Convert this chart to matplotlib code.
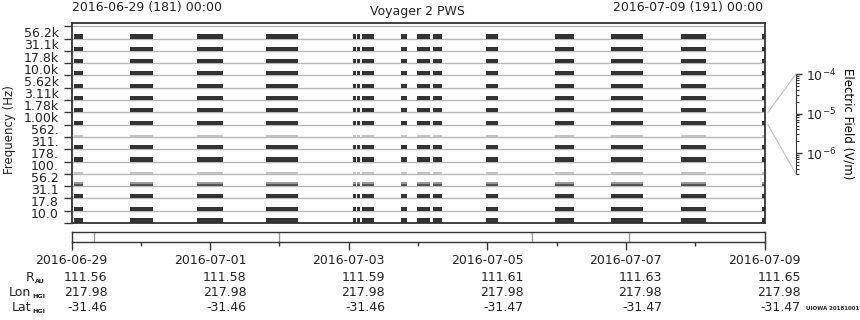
import matplotlib
matplotlib.use('Agg')
import matplotlib.pyplot as plt
from matplotlib.patches import ConnectionPatch
import numpy as np

# channel labels, bottom row first
freq_labels = ['10.0', '17.8', '31.1', '56.2', '100.', '178.', '311.', '562.',
               '1.00k', '1.78k', '3.11k', '5.62k', '10.0k', '17.8k', '31.1k', '56.2k']
# signal level of each row (bottom first): 2 strong, 1 medium, 0 weak
row_level = [2, 2, 2, 1, 0, 2, 2, 0, 2, 2, 2, 2, 2, 2, 2, 2]

# data intervals, in days after 2016-06-29 00:00
seg_start = [0.04, 0.84, 1.81, 2.80, 4.06, 4.12, 4.19, 4.75, 4.98, 5.21, 5.98, 6.97, 7.79, 8.79, 9.97]
seg_end = [0.17, 1.18, 2.18, 3.27, 4.11, 4.17, 4.36, 4.84, 5.17, 5.34, 6.16, 7.25, 8.25, 9.15, 10.0]

# gray markers in the strip under the panel (days)
strip_marks = [0.32, 3.0, 6.65, 8.05]

date_ticks = [0, 2, 4, 6, 8, 10]
date_labels = ['2016-06-29', '2016-07-01', '2016-07-03', '2016-07-05', '2016-07-07', '2016-07-09']
r_au = ['111.56', '111.58', '111.59', '111.61', '111.63', '111.65']
lon_hgi = ['217.98', '217.98', '217.98', '217.98', '217.98', '217.98']
lat_hgi = ['-31.46', '-31.46', '-31.46', '-31.47', '-31.47', '-31.47']

txt = '#222222'
dark = '#333333'
plt.rcParams['font.family'] = 'DejaVu Sans'
plt.rcParams['font.size'] = 9
plt.rcParams['text.color'] = txt
plt.rcParams['xtick.color'] = txt
plt.rcParams['ytick.color'] = txt

W, H = 860, 320
fig = plt.figure(figsize=(W / 100, H / 100), dpi=100)

def px(x0, y0, x1, y1):
    # pixel box -> figure fraction
    return [x0 / W, 1 - y1 / H, (x1 - x0) / W, (y1 - y0) / H]

# ---- main panel
ax = fig.add_axes(px(71.5, 23.3, 764.5, 223))
nrow = len(freq_labels)
ax.set_xlim(0, 10)
ax.set_ylim(0, nrow + 0.24)
for i in range(1, nrow + 1):
    ax.axhline(i, color='#b8b8b8', lw=1, zorder=1)

widths = [e - s for s, e in zip(seg_start, seg_end)]
segs = list(zip(seg_start, widths))
for i, lev in enumerate(row_level):
    h = 0.33 if i > 0 else 0.42
    if lev == 2:
        ax.broken_barh(segs, (i, h), facecolors=dark, zorder=2)
    elif lev == 1:
        ax.broken_barh(segs, (i, 0.3), facecolors='#9a9a9a', zorder=2)
        ax.broken_barh(segs, (i, 0.18), facecolors='#555555', zorder=2)
    else:
        ax.broken_barh(segs, (i, 0.16), facecolors='#c4c4c4', zorder=2)

ax.set_yticks(np.arange(nrow + 1))
ax.set_yticklabels([])
ax.set_yticks(np.linspace(0.8, 15.5, nrow), minor=True)
ax.set_yticklabels(freq_labels, minor=True)
ax.tick_params(axis='y', which='major', direction='out', length=6, width=1, color=dark)
ax.tick_params(axis='y', which='minor', length=0, pad=9, labelsize=9)
ax.set_xticks([])
for s in ax.spines.values():
    s.set_color(dark)
    s.set_linewidth(1.3)

# ---- field scale on the right
cax = fig.add_axes(px(796, 74, 796.1, 174))
cax.set_yscale('log')
cax.set_ylim(3e-7, 1e-4)
cax.set_xticks([])
cax.yaxis.tick_right()
cax.yaxis.set_label_position('right')
for k in ['left', 'top', 'bottom']:
    cax.spines[k].set_visible(False)
cax.spines['right'].set_color(dark)
cax.tick_params(axis='y', which='major', direction='out', length=4, width=1, color=dark, pad=3)
cax.tick_params(axis='y', which='minor', direction='out', length=2, width=0.8, color=dark)
cax.set_ylabel('Electric Field (V/m)', rotation=270, labelpad=13, fontsize=8.5)

for ya, yb in [(9, 1), (8, 0)]:
    con = ConnectionPatch(xyA=(10.05, ya), coordsA=ax.transData,
                          xyB=(-0.5, yb), coordsB=cax.transAxes,
                          color='#c0c0c0', lw=0.8)
    fig.add_artist(con)

# ---- time strip
sax = fig.add_axes(px(71.5, 232, 764.5, 242))
sax.set_xlim(0, 10)
sax.set_yticks([])
for m in strip_marks:
    sax.axvline(m, color='#999999', lw=1)
for s in sax.spines.values():
    s.set_color(dark)
    s.set_linewidth(1)
sax.set_xticks(date_ticks)
sax.set_xticklabels(date_labels)
sax.set_xticks([1, 3, 5, 7, 9], minor=True)
sax.tick_params(axis='x', which='major', direction='out', length=5.5, width=1, color=dark, pad=3)
sax.tick_params(axis='x', which='minor', direction='out', length=3, width=1, color=dark)

# ephemeris values, right-aligned under each date
fig.canvas.draw()
for lab, vals in zip(sax.get_xticklabels(), zip(r_au, lon_hgi, lat_hgi)):
    x1 = lab.get_window_extent().x1
    for v, y in zip(vals, [281, 296, 311]):
        fig.text(x1 / W, 1 - y / H, v, ha='right', va='baseline')

# row names with small subscripts
for name, sub, y in [('R', 'AU', 281), ('Lon', 'HGI', 296), ('Lat', 'HGI', 311)]:
    t = fig.text(45 / W, 1 - (y + 2) / H, sub, fontsize=4.6, weight='bold', ha='right', va='baseline')
    fig.canvas.draw()
    bb = t.get_window_extent()
    fig.text((bb.x0 - 1) / W, 1 - y / H, name, ha='right', va='baseline')

# ---- header and labels
fig.text(72 / W, 1 - 8 / H, '2016-06-29 (181) 00:00', ha='left', va='center')
fig.text(763 / W, 1 - 8 / H, '2016-07-09 (191) 00:00', ha='right', va='center')
fig.text(417 / W, 1 - 12 / H, 'Voyager 2 PWS', ha='center', va='center')
fig.text(10 / W, 1 - 130 / H, 'Frequency (Hz)', rotation=90, ha='center', va='center', fontsize=8.5)
fig.text(806 / W, 1 - 308 / H, 'UIOWA 20181001', fontsize=4, weight='bold', ha='left', va='center')

fig.savefig('out.png', dpi=100)
